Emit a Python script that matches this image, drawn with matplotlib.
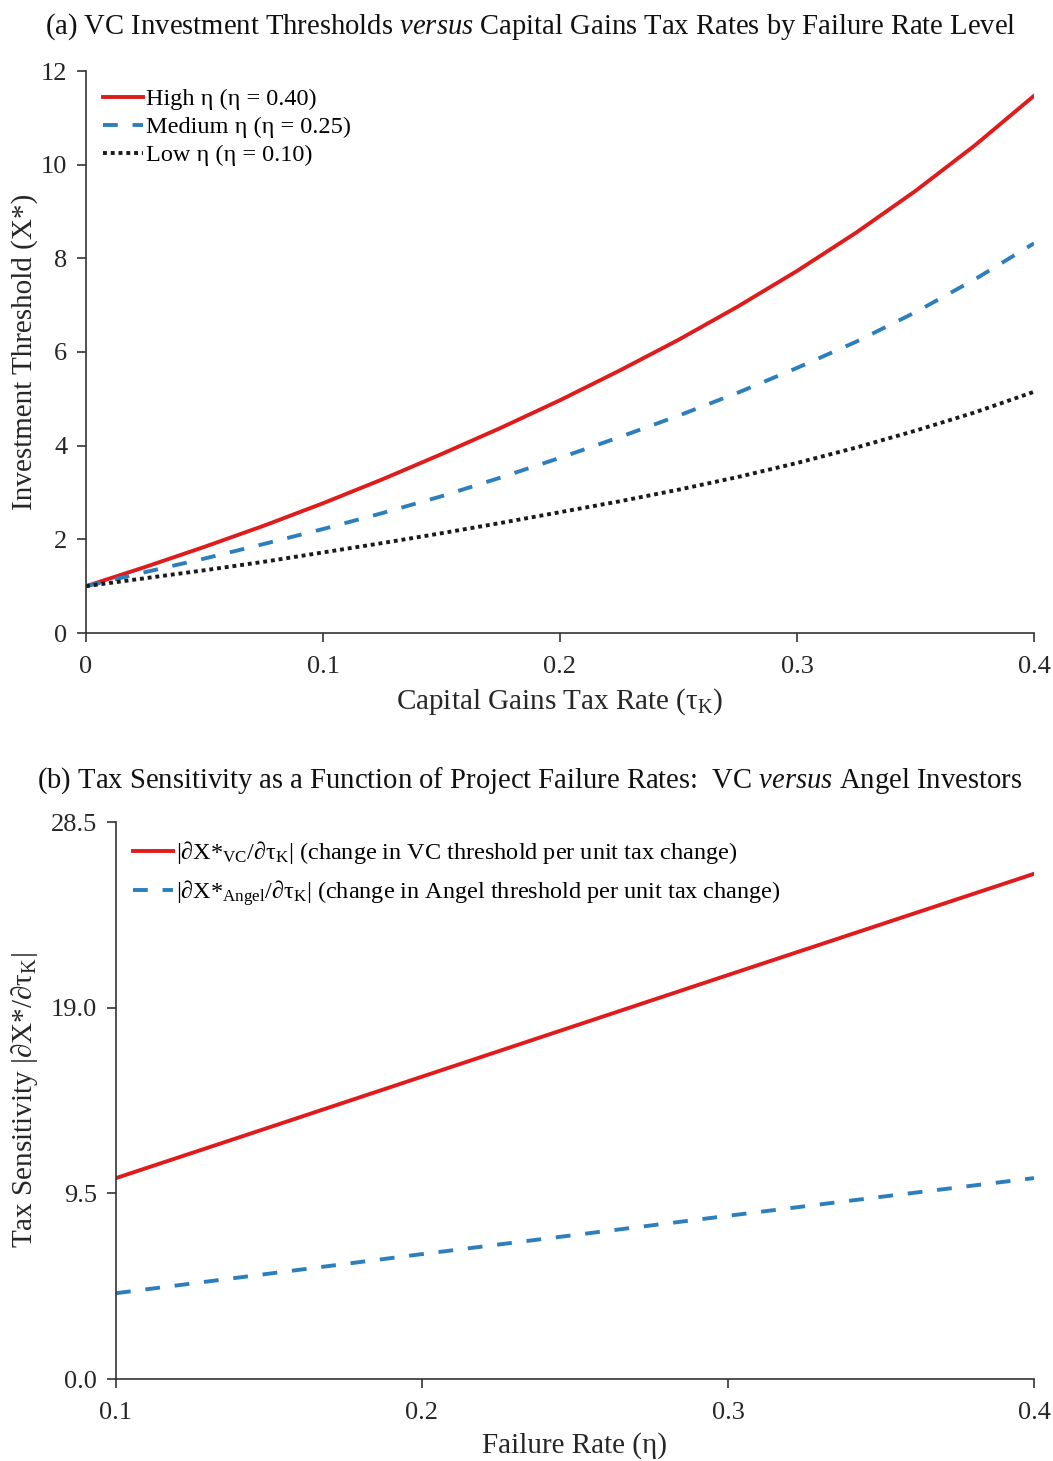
import numpy as np
import matplotlib
matplotlib.use('Agg')
import matplotlib.pyplot as plt

plt.rcParams['font.family'] = ['Liberation Serif', 'DejaVu Serif']
plt.rcParams['mathtext.fontset'] = 'custom'
plt.rcParams['mathtext.rm'] = 'Liberation Serif'
plt.rcParams['mathtext.it'] = 'Liberation Serif:italic'

# panel (a): threshold vs capital gains tax rate
tau_k = [0.0, 0.025, 0.05, 0.075, 0.10, 0.125, 0.15, 0.175, 0.20,
         0.225, 0.25, 0.275, 0.30, 0.325, 0.35, 0.375, 0.40]
x_high = [1.00, 1.41, 1.84, 2.29, 2.77, 3.28, 3.82, 4.38, 4.97,
          5.60, 6.26, 6.97, 7.73, 8.55, 9.44, 10.41, 11.47]
x_medium = [1.00, 1.30, 1.59, 1.90, 2.22, 2.56, 2.92, 3.32, 3.74,
            4.18, 4.64, 5.13, 5.66, 6.22, 6.85, 7.55, 8.32]
x_low = [1.00, 1.17, 1.34, 1.52, 1.72, 1.92, 2.13, 2.35, 2.58,
         2.81, 3.06, 3.33, 3.63, 3.96, 4.32, 4.71, 5.15]
labels_a = ['High η (η = 0.40)', 'Medium η (η = 0.25)', 'Low η (η = 0.10)']

# panel (b): tax sensitivity vs failure rate
eta = [0.10, 0.15, 0.20, 0.25, 0.30, 0.35, 0.40]
sens_vc = [10.28, 12.87, 15.47, 18.07, 20.67, 23.26, 25.85]
sens_angel = [4.39, 5.39, 6.39, 7.37, 8.35, 9.32, 10.28]
labels_b = [r'|∂X*$_{\mathrm{VC}}$/∂τ$_{\mathrm{K}}$| (change in VC threshold per unit tax change)',
            r'|∂X*$_{\mathrm{Angel}}$/∂τ$_{\mathrm{K}}$| (change in Angel threshold per unit tax change)']

RED = '#e01b1b'
BLUE = '#2c7fbc'
TXT = '#262626'
TICK_FS = 19
LABEL_FS = 21
TITLE_FS = 20.6
LEG_FS = 17.5
DASH = (0, (3.8, 3.8))
DOT = (0, (1, 1))


def style_axes(ax):
    for s in ['top', 'right']:
        ax.spines[s].set_visible(False)
    for s in ['left', 'bottom']:
        ax.spines[s].set_color('#333333')
        ax.spines[s].set_linewidth(1.2)
    ax.tick_params(direction='out', length=6.5, width=1.2, color='#333333',
                   labelsize=TICK_FS, labelcolor=TXT, pad=7)
    ax.tick_params(axis='x', pad=10)


fig = plt.figure(figsize=(10.53, 14.61), dpi=100)

# top panel
ax1 = fig.add_axes([86 / 1053, 1 - 633 / 1461, 948 / 1053, 562 / 1461])
ax1.plot(tau_k, x_high, color=RED, lw=2.8, label=labels_a[0])
ax1.plot(tau_k, x_medium, color=BLUE, lw=2.8, ls=DASH, label=labels_a[1])
ax1.plot(tau_k, x_low, color='#1a1a1a', lw=2.8, ls=DOT, label=labels_a[2])
ax1.set_xlim(0, 0.4)
ax1.set_ylim(0, 12)
ax1.set_xticks([0, 0.1, 0.2, 0.3, 0.4])
ax1.set_xticklabels(['0', '0.1', '0.2', '0.3', '0.4'])
ax1.set_yticks([0, 2, 4, 6, 8, 10, 12])
style_axes(ax1)
ax1.set_xlabel(r'Capital Gains Tax Rate (τ$_{\mathrm{K}}$)', fontsize=LABEL_FS, color=TXT, labelpad=6)
ax1.set_ylabel('Investment Threshold (X*)', fontsize=LABEL_FS, color=TXT, labelpad=2)
# titles are centred on the figure, not on the axes
ax1.set_title(r'(a) VC Investment Thresholds $\mathit{versus}$ Capital Gains Tax Rates by Failure Rate Level',
              fontsize=TITLE_FS, color='#111111', pad=27, x=(531 - 86) / 948)
ax1.legend(loc='upper left', frameon=False, fontsize=LEG_FS, handlelength=1.65,
           handletextpad=0.12, labelspacing=0.25, borderaxespad=0.3,
           bbox_to_anchor=(0.0, 1.0))

# bottom panel
ax2 = fig.add_axes([116 / 1053, 1 - 1379 / 1461, 918 / 1053, 557 / 1461])
ax2.plot(eta, sens_vc, color=RED, lw=2.8, label=labels_b[0])
ax2.plot(eta, sens_angel, color=BLUE, lw=2.8, ls=DASH, label=labels_b[1])
ax2.set_xlim(0.1, 0.4)
ax2.set_ylim(0, 28.5)
ax2.set_xticks([0.1, 0.2, 0.3, 0.4])
ax2.set_yticks([0, 9.5, 19.0, 28.5])
ax2.set_yticklabels(['0.0', '9.5', '19.0', '28.5'])
style_axes(ax2)
ax2.set_xlabel('Failure Rate (η)', fontsize=LABEL_FS, color=TXT, labelpad=6)
ax2.set_ylabel(r'Tax Sensitivity |∂X*/∂τ$_{\mathrm{K}}$|', fontsize=LABEL_FS, color=TXT, labelpad=8)
ax2.set_title(r'(b) Tax Sensitivity as a Function of Project Failure Rates:  VC $\mathit{versus}$ Angel Investors',
              fontsize=TITLE_FS, color='#111111', pad=25, x=(530 - 116) / 918)
ax2.legend(loc='upper left', frameon=False, fontsize=LEG_FS, handlelength=1.65,
           handletextpad=0.12, labelspacing=0.5, borderaxespad=0.3,
           bbox_to_anchor=(0.0, 1.0))

fig.savefig('out.png', dpi=100)
